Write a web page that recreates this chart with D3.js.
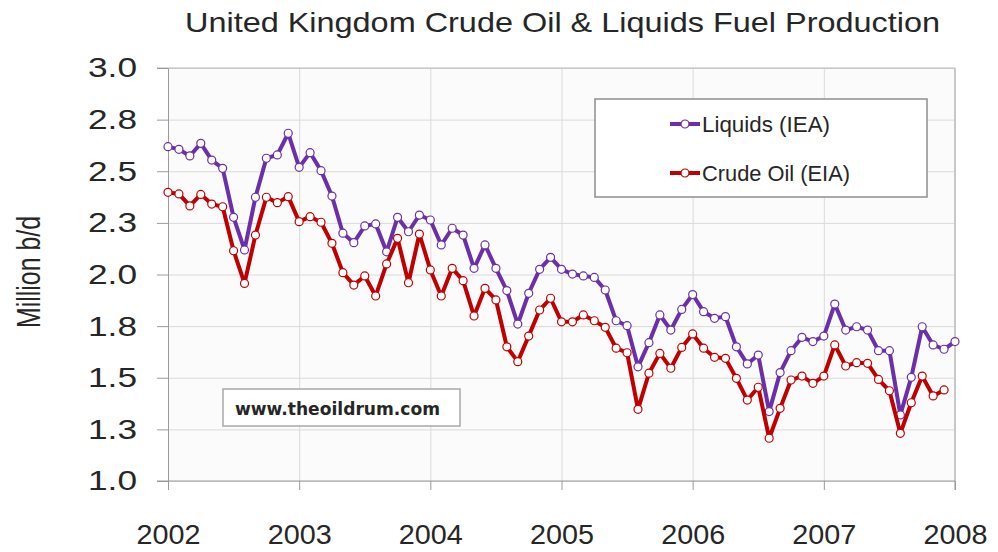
<!DOCTYPE html>
<html>
<head>
<meta charset="utf-8">
<script src="https://cdn.jsdelivr.net/npm/d3@7"></script>
<style>
  body { margin:0; background:#fff; }
  text { font-family: "Liberation Sans", Arial, sans-serif; fill:#262626; }
</style>
</head>
<body>
<div id="chart"></div>
<script>
let years = [2002, 2003, 2004, 2005, 2006, 2007, 2008]
let yearLabels = ["2002", "2003", "2004", "2005", "2006", "2007", "2008"]
let yTicks = [1.0, 1.25, 1.5, 1.75, 2.0, 2.25, 2.5, 2.75, 3.0]
let yTickLabels = ["1.0", "1.3", "1.5", "1.8", "2.0", "2.3", "2.5", "2.8", "3.0"]

// monthly, Jan 2002 .. Jan 2008
let liquids = [
  2.619, 2.606, 2.574, 2.635, 2.554, 2.514, 2.277, 2.119, 2.374, 2.563, 2.579, 2.684,
  2.519, 2.590, 2.503, 2.380, 2.200, 2.154, 2.235, 2.245, 2.110, 2.277, 2.207, 2.288,
  2.264, 2.143, 2.224, 2.191, 2.030, 2.143, 2.030, 1.922, 1.760, 1.909, 2.025, 2.083,
  2.025, 2.002, 1.993, 1.986, 1.925, 1.776, 1.752, 1.553, 1.670, 1.804, 1.731, 1.831,
  1.903, 1.820, 1.788, 1.796, 1.650, 1.567, 1.610, 1.336, 1.525, 1.631, 1.696, 1.675,
  1.702, 1.857, 1.731, 1.747, 1.731, 1.631, 1.631, 1.320, 1.502, 1.747, 1.659, 1.638,
  1.675
]
// monthly, Jan 2002 .. Dec 2007
let crude = [
  2.398, 2.390, 2.332, 2.388, 2.341, 2.328, 2.115, 1.957, 2.191, 2.374, 2.348, 2.377,
  2.256, 2.280, 2.253, 2.151, 2.009, 1.949, 1.993, 1.896, 2.051, 2.175, 1.960, 2.196,
  2.022, 1.896, 2.030, 1.970, 1.799, 1.933, 1.877, 1.650, 1.578, 1.702, 1.828, 1.885,
  1.771, 1.771, 1.804, 1.776, 1.744, 1.643, 1.621, 1.347, 1.522, 1.618, 1.546, 1.647,
  1.712, 1.643, 1.599, 1.594, 1.497, 1.392, 1.454, 1.207, 1.352, 1.489, 1.508, 1.473,
  1.508, 1.659, 1.557, 1.573, 1.570, 1.492, 1.437, 1.231, 1.379, 1.508, 1.412, 1.441
]

let series = [
  { name:"Liquids (IEA)", values:liquids, color:"#6b2fa8" },
  { name:"Crude Oil (EIA)", values:crude, color:"#c00000" }
]

function render(){
  let width = 998, height = 552,
      left = 168, right = 955, top = 68, bottom = 481

  let xScale = d3.scaleLinear().domain([2002, 2008]).range([left, right])
  let yScale = d3.scaleLinear().domain([1, 3]).range([bottom, top])
  let xValue = (d,i) => 2002 + i/12

  let svg = d3.select("#chart").append("svg").attr("width",width).attr("height",height)

  svg.append("rect").attr("x",left).attr("y",top).attr("width",right-left).attr("height",bottom-top)
     .attr("fill","#fbfbfb")

  // grid
  let yGrid = svg.append("g").attr("transform",`translate(${left},0)`)
     .call(d3.axisLeft(yScale).tickValues(yTicks).tickSize(-(right-left)).tickFormat(""))
  yGrid.select(".domain").remove()
  yGrid.selectAll("line").attr("stroke","#dadada")
  let xGrid = svg.append("g").attr("transform",`translate(0,${bottom})`)
     .call(d3.axisBottom(xScale).tickValues(years).tickSize(-(bottom-top)).tickFormat(""))
  xGrid.select(".domain").remove()
  xGrid.selectAll("line").attr("stroke","#dadada")

  svg.append("line").attr("x1",left-11).attr("x2",right).attr("y1",top).attr("y2",top).attr("stroke","#b8b8b8")
  svg.append("line").attr("x1",right).attr("x2",right).attr("y1",top).attr("y2",bottom+9).attr("stroke","#c8c8c8").attr("stroke-width",2)

  // axes
  let yAxis = d3.axisLeft(yScale).tickValues(yTicks).tickFormat((d,i)=>yTickLabels[i])
      .tickSize(11).tickSizeOuter(0).tickPadding(20)
  let yGroup = svg.append("g").attr("transform",`translate(${left},0)`).call(yAxis)
  yGroup.select(".domain").attr("stroke","#9a9a9a")
  yGroup.selectAll("line").attr("stroke","#9a9a9a")
  yGroup.selectAll("text").attr("font-size",28).attr("fill","#262626")
      .attr("textLength",49).attr("lengthAdjust","spacingAndGlyphs")

  let xAxis = d3.axisBottom(xScale).tickValues(years).tickFormat((d,i)=>yearLabels[i])
      .tickSize(9).tickSizeOuter(0).tickPadding(34)
  let xGroup = svg.append("g").attr("transform",`translate(0,${bottom})`).call(xAxis)
  xGroup.select(".domain").attr("stroke","#9a9a9a").attr("d",`M${left-11},0H${right}`)
  xGroup.selectAll("line").attr("stroke","#9a9a9a")
  xGroup.selectAll("text").attr("font-size",28).attr("fill","#262626")
      .attr("textLength",64).attr("lengthAdjust","spacingAndGlyphs")

  // title and axis label
  svg.append("text").attr("x",185).attr("y",32).text("United Kingdom Crude Oil & Liquids Fuel Production")
     .attr("font-size",28).attr("fill","#222").attr("textLength",755).attr("lengthAdjust","spacingAndGlyphs")
  svg.append("text").attr("transform","translate(40,272) rotate(-90)").attr("text-anchor","middle")
     .text("Million b/d").attr("font-size",34).attr("fill","#3a3a3a")
     .attr("textLength",112).attr("lengthAdjust","spacingAndGlyphs")

  // watermark
  svg.append("rect").attr("x",223).attr("y",389).attr("width",237).attr("height",37)
     .attr("fill","#fff").attr("stroke","#a8a8a8").attr("stroke-width",1.5)
  svg.append("text").attr("x",235).attr("y",415).text("www.theoildrum.com")
     .attr("font-weight","bold").attr("font-size",17)
     .style("font-family","'DejaVu Sans', sans-serif").attr("fill","#1a1a1a")
     .attr("textLength",205).attr("lengthAdjust","spacingAndGlyphs")

  // series
  let lineGenerator = d3.line().x((d,i)=>xScale(xValue(d,i))).y(d=>yScale(d))
  series.forEach(s => {
    let g = svg.append("g")
    g.append("path").attr("d",lineGenerator(s.values)).attr("fill","none")
     .attr("stroke",s.color).attr("stroke-width",4).attr("stroke-linejoin","round")
    g.selectAll("circle").data(s.values).enter().append("circle")
     .attr("cx",(d,i)=>xScale(xValue(d,i))).attr("cy",d=>yScale(d)).attr("r",4)
     .attr("fill","#fff").attr("stroke",s.color).attr("stroke-width",1.2)
  })

  // legend
  let legend = svg.append("g")
  legend.append("rect").attr("x",595).attr("y",99).attr("width",332).attr("height",98)
     .attr("fill","#fff").attr("stroke","#8e8e8e").attr("stroke-width",1.5)
  let rows = legend.selectAll(".row").data(series).enter().append("g").attr("class","row")
     .attr("transform",(d,i)=>`translate(0,${124 + i*49})`)
  rows.append("line").attr("x1",670).attr("x2",700).attr("stroke",d=>d.color).attr("stroke-width",4)
  rows.append("circle").attr("cx",685).attr("r",4).attr("fill","#fff").attr("stroke",d=>d.color).attr("stroke-width",1.2)
  rows.append("text").attr("x",702).attr("y",8).text(d=>d.name).attr("font-size",22).attr("fill","#333")
     .attr("textLength",(d,i)=>i==0 ? 128 : 148).attr("lengthAdjust","spacingAndGlyphs")
}

render()
</script>
</body>
</html>
